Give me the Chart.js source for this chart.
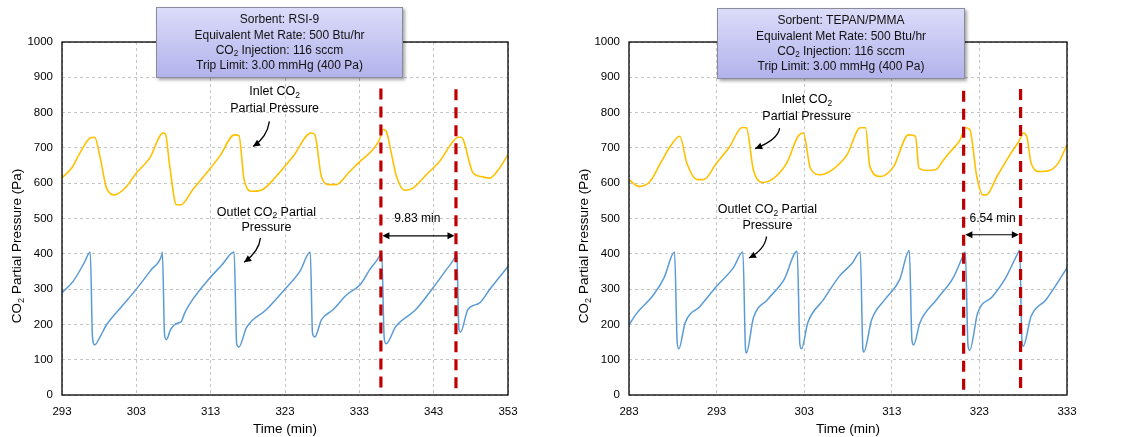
<!DOCTYPE html>
<html>
<head>
<meta charset="utf-8">
<script src="https://cdn.jsdelivr.net/npm/chart.js@4/dist/chart.umd.min.js"></script>
<style>
  html, body { margin: 0; padding: 0; background: #ffffff; }
  .panel { position: absolute; top: 0; height: 437px; }
  #panelLeft { left: 0; width: 560px; }
  #panelRight { left: 560px; width: 565px; }
</style>
</head>
<body>
<div class="panel" id="panelLeft"><canvas id="chartLeft"></canvas></div>
<div class="panel" id="panelRight"><canvas id="chartRight"></canvas></div>
<script>
// --- datos (tiempo en min, presion en Pa) ---

// panel izquierdo: RSI-9
const leftInletTime = [293, 294.3, 295.4, 296.8, 297.4, 298.1, 299.0, 300.1, 301.7, 303, 304.8, 306.6, 306.9, 307.5, 308.4, 309.0, 310.6, 312.8, 314.2, 316.2, 316.8, 317.5, 318.6, 320, 321.8, 324.1, 326.5, 327, 327.9, 329, 329.9, 331.7, 333.1, 334.8, 335.7, 336.2, 336.6, 337.3, 338, 339.1, 340.2, 342.0, 343.8, 345.6, 346.3, 346.7, 348.3, 349.4, 350.5, 351.7, 353];
const leftInletPa = [615, 643, 685, 728, 730, 676, 586, 567, 591, 629, 671, 742, 740, 647, 539, 539, 582, 638, 676, 737, 735, 610, 577, 582, 619, 676, 742, 738, 619, 596, 596, 633, 662, 695, 723, 752, 748, 685, 619, 580, 586, 624, 662, 718, 730, 730, 629, 619, 614, 638, 681];
const leftOutletTime = [293, 294.5, 296.0, 296.8, 297.1, 297.4, 298.0, 299.0, 301.0, 303, 305.0, 306.4, 306.5, 306.8, 307.05, 307.6, 308.4, 309.0, 309.5, 310.4, 312.7, 314.5, 316.15, 316.5, 316.8, 317.8, 320.5, 323, 325, 326.4, 326.7, 327.0, 327.9, 329.5, 331.3, 333.1, 334.4, 335.7, 336.0, 336.35, 336.6, 337.9, 340.6, 342.9, 344.7, 345.8, 346.1, 346.4, 346.6, 347.6, 349.2, 350.5, 353];
const leftOutletPa = [290, 322, 375, 405, 165, 142, 160, 199, 250, 300, 355, 395, 405, 170, 157, 185, 203, 207, 232, 265, 327, 368, 405, 145, 136, 190, 242, 300, 350, 405, 175, 164, 213, 242, 284, 312, 355, 393, 408, 160, 145, 194, 242, 303, 355, 388, 405, 185, 178, 242, 261, 298, 364];
const leftTripTimes = [335.9, 346.0];
const leftTripTops = [868, 866];

// panel derecho: TEPAN/PMMA
const rightInletTime = [283, 284.1, 285.4, 286.6, 287.7, 288.8, 289.6, 290.8, 291.5, 293, 294.5, 295.9, 296.4, 297.2, 298.3, 299.3, 301, 302.3, 302.9, 303.7, 304.8, 306.2, 307.9, 309.4, 310.0, 310.5, 311.7, 313.2, 314.9, 315.7, 316.1, 317.0, 318.0, 318.9, 319.7, 320.8, 321.4, 321.9, 322.7, 323.4, 323.8, 325.0, 326.5, 327.6, 328.0, 328.4, 328.9, 329.9, 331.0, 332.0, 333];
const rightInletPa = [610, 591, 605, 657, 704, 733, 657, 610, 610, 657, 704, 758, 757, 638, 602, 610, 657, 733, 742, 643, 624, 638, 681, 757, 757, 647, 619, 647, 737, 733, 643, 636, 638, 666, 690, 723, 757, 752, 619, 567, 567, 619, 681, 723, 742, 733, 657, 633, 636, 657, 709];
const rightOutletTime = [283, 283.9, 285.8, 287.0, 288.2, 288.5, 288.7, 289.4, 291.1, 293, 294.9, 296.0, 296.3, 296.4, 297.2, 298.8, 300.7, 302.2, 302.5, 302.7, 303.4, 305.2, 307.0, 308.5, 309.4, 309.7, 309.8, 310.7, 312.2, 313.9, 315.0, 315.3, 315.5, 316.2, 318.1, 320.0, 321.2, 321.4, 321.7, 321.9, 322.8, 324.5, 326.0, 327.4, 327.6, 327.85, 328.0, 328.9, 330.6, 333];
const rightOutletPa = [199, 232, 284, 332, 405, 150, 131, 204, 251, 308, 360, 405, 130, 119, 218, 270, 327, 407, 145, 131, 204, 270, 336, 374, 405, 130, 122, 213, 270, 327, 409, 155, 142, 204, 270, 332, 397, 405, 140, 127, 232, 279, 332, 402, 410, 155, 138, 223, 270, 360];
const rightTripTimes = [321.2, 327.7];
const rightTripTops = [862, 867];

// textos de las cajas de titulo
const leftBoxLines = ['Sorbent: RSI-9', 'Equivalent Met Rate: 500 Btu/hr', 'CO₂ Injection: 116 sccm', 'Trip Limit: 3.00 mmHg (400 Pa)'];
const rightBoxLines = ['Sorbent: TEPAN/PMMA', 'Equivalent Met Rate: 500 Btu/hr', 'CO₂ Injection: 116 sccm', 'Trip Limit: 3.00 mmHg (400 Pa)'];
const yTicks = [0, 100, 200, 300, 400, 500, 600, 700, 800, 900, 1000];

const FONT = '"Liberation Sans", Arial, sans-serif';

// Dibuja texto centrado; el caracter ₂ se pinta como subindice
function drawRich(ctx, text, x, y, size, color) {
    const parts = text.split('₂');
    const main = `${size}px ${FONT}`;
    const sub = `${size * 0.68}px ${FONT}`;
    let total = 0;
    parts.forEach((p, i) => {
        ctx.font = main;
        total += ctx.measureText(p).width;
        if (i < parts.length - 1) {
            ctx.font = sub;
            total += ctx.measureText('2').width;
        }
    });
    let cx = x - total / 2;
    ctx.fillStyle = color || '#000';
    ctx.textAlign = 'left';
    ctx.textBaseline = 'middle';
    parts.forEach((p, i) => {
        ctx.font = main;
        ctx.fillText(p, cx, y);
        cx += ctx.measureText(p).width;
        if (i < parts.length - 1) {
            ctx.font = sub;
            ctx.fillText('2', cx, y + size * 0.32);
            cx += ctx.measureText('2').width;
        }
    });
}

function arrowHead(ctx, x, y, angle, len, half) {
    ctx.beginPath();
    ctx.moveTo(x, y);
    ctx.lineTo(x - len * Math.cos(angle) + half * Math.sin(angle), y - len * Math.sin(angle) - half * Math.cos(angle));
    ctx.lineTo(x - len * Math.cos(angle) - half * Math.sin(angle), y - len * Math.sin(angle) + half * Math.cos(angle));
    ctx.closePath();
    ctx.fill();
}

// Plugin: marco, caja de titulo, titulo Y, textos y flechas
const decorPlugin = {
    id: 'decor',
    afterDraw(chart) {
        const o = chart.options.plugins.decor;
        const { ctx, chartArea: a, scales } = chart;
        const X = v => scales.x.getPixelForValue(v);
        const Y = v => scales.y.getPixelForValue(v);
        ctx.save();
        ctx.setLineDash([]);

        // marco negro del area de trazado
        ctx.strokeStyle = '#000';
        ctx.lineWidth = 1.3;
        ctx.strokeRect(a.left, a.top, a.right - a.left, a.bottom - a.top);

        // titulo del eje Y
        ctx.save();
        ctx.translate(o.yTitleX, 246);
        ctx.rotate(-Math.PI / 2);
        drawRich(ctx, 'CO₂ Partial Pressure (Pa)', 0, 0, 13.5, '#000');
        ctx.restore();

        // textos de las curvas
        o.labels.forEach(l => drawRich(ctx, l.text, X(l.x), Y(l.y), l.size, '#000'));

        // flechas curvas de anotacion
        ctx.strokeStyle = '#000';
        ctx.fillStyle = '#000';
        ctx.lineWidth = 1.3;
        o.pointers.forEach(p => {
            const x0 = X(p.from[0]), y0 = Y(p.from[1]);
            const xc = X(p.ctrl[0]), yc = Y(p.ctrl[1]);
            const x1 = X(p.to[0]), y1 = Y(p.to[1]);
            ctx.beginPath();
            ctx.moveTo(x0, y0);
            ctx.quadraticCurveTo(xc, yc, x1, y1);
            ctx.stroke();
            arrowHead(ctx, x1, y1, Math.atan2(y1 - yc, x1 - xc), 7, 3.5);
        });

        // flecha doble entre lineas de disparo
        const d = o.span;
        const xa = X(d.from), xb = X(d.to), yd = Y(d.y);
        ctx.lineWidth = 1.2;
        ctx.beginPath();
        ctx.moveTo(xa + 5, yd);
        ctx.lineTo(xb - 5, yd);
        ctx.stroke();
        arrowHead(ctx, xa, yd, Math.PI, 7, 3.5);
        arrowHead(ctx, xb, yd, 0, 7, 3.5);

        // caja de titulo con sombra y degradado
        const b = o.box;
        ctx.save();
        ctx.shadowColor = 'rgba(0,0,0,0.35)';
        ctx.shadowBlur = 3;
        ctx.shadowOffsetX = 2;
        ctx.shadowOffsetY = 2;
        const grad = ctx.createLinearGradient(0, b.top, 0, b.bottom);
        grad.addColorStop(0, '#dcdcfa');
        grad.addColorStop(1, '#b2b2ec');
        ctx.fillStyle = grad;
        ctx.fillRect(b.left, b.top, b.right - b.left, b.bottom - b.top);
        ctx.restore();
        ctx.strokeStyle = '#8a8a9a';
        ctx.lineWidth = 1;
        ctx.strokeRect(b.left + 0.5, b.top + 0.5, b.right - b.left - 1, b.bottom - b.top - 1);
        const cx = (b.left + b.right) / 2;
        b.lines.forEach((t, i) => drawRich(ctx, t, cx, b.top + 13 + i * 15.2, 12, '#111'));

        ctx.restore();
    }
};

function series(times, values) {
    return times.map((t, i) => ({ x: t, y: values[i] }));
}

function tripLines(times, tops) {
    // cada linea roja discontinua va desde su tope hasta 0
    return times.map((t, i) => ({
        data: [{ x: t, y: tops[i] }, { x: t, y: 0 }],
        borderColor: '#C00000',
        borderWidth: 3.2,
        borderDash: [11, 7],
        pointRadius: 0,
        order: 0
    }));
}

function makeChart(id, cfg) {
    const ctx = document.getElementById(id);
    return new Chart(ctx, {
        type: 'line',
        data: {
            datasets: [
                {
                    label: 'Inlet',
                    data: series(cfg.inletT, cfg.inletV),
                    borderColor: '#FFC000',
                    borderWidth: 1.6,
                    pointRadius: 0,
                    cubicInterpolationMode: 'monotone',
                    order: 2
                },
                {
                    label: 'Outlet',
                    data: series(cfg.outletT, cfg.outletV),
                    borderColor: '#5B9BD5',
                    borderWidth: 1.5,
                    pointRadius: 0,
                    cubicInterpolationMode: 'monotone',
                    order: 1
                },
                ...tripLines(cfg.tripT, cfg.tripTop)
            ]
        },
        options: {
            responsive: true,
            maintainAspectRatio: false,
            animation: false,
            layout: { padding: { top: 42, right: cfg.padRight, bottom: 0, left: 0 } },
            scales: {
                x: {
                    type: 'linear',
                    min: cfg.xMin,
                    max: cfg.xMax,
                    afterFit: s => { s.height = 42; },
                    afterBuildTicks: s => { s.ticks = cfg.xTicks.map(v => ({ value: v })); },
                    ticks: { color: '#000', font: { family: FONT, size: 11.5 }, padding: 10, maxRotation: 0, callback: v => String(v) },
                    grid: { color: '#c4c4c4', lineWidth: 1, drawTicks: false },
                    border: { display: false, dash: [3, 3] },
                    title: { display: true, text: 'Time (min)', color: '#000', font: { family: FONT, size: 13.5 }, padding: { top: 0, bottom: 0 } }
                },
                y: {
                    min: 0,
                    max: 1000,
                    afterFit: s => { s.width = cfg.yWidth; },
                    afterBuildTicks: s => { s.ticks = yTicks.map(v => ({ value: v })); },
                    ticks: { color: '#000', font: { family: FONT, size: 11.5 }, padding: 9, callback: v => String(v) },
                    grid: { color: '#c4c4c4', lineWidth: 1, drawTicks: false },
                    border: { display: false, dash: [3, 3] }
                }
            },
            plugins: {
                legend: { display: false },
                tooltip: { enabled: false },
                decor: cfg.decor
            }
        },
        plugins: [decorPlugin]
    });
}

makeChart('chartLeft', {
    inletT: leftInletTime, inletV: leftInletPa,
    outletT: leftOutletTime, outletV: leftOutletPa,
    tripT: leftTripTimes, tripTop: leftTripTops,
    xMin: 293, xMax: 353, xTicks: [293, 303, 313, 323, 333, 343, 353],
    yWidth: 62, padRight: 52,
    decor: {
        yTitleX: 17,
        box: { left: 156, right: 403, top: 7, bottom: 78, lines: leftBoxLines },
        labels: [
            { text: 'Inlet CO₂', x: 321.6, y: 860, size: 12.5 },
            { text: 'Partial Pressure', x: 321.6, y: 812, size: 12.5 },
            { text: 'Outlet CO₂ Partial', x: 320.5, y: 518, size: 12.5 },
            { text: 'Pressure', x: 320.5, y: 473, size: 12.5 },
            { text: '9.83 min', x: 340.8, y: 499, size: 12 }
        ],
        pointers: [
            { from: [320.9, 775], ctrl: [320.6, 730], to: [318.7, 704] },
            { from: [319.7, 445], ctrl: [319.5, 406], to: [317.5, 376] }
        ],
        span: { from: 336.1, to: 345.8, y: 451 }
    }
});

makeChart('chartRight', {
    inletT: rightInletTime, inletV: rightInletPa,
    outletT: rightOutletTime, outletV: rightOutletPa,
    tripT: rightTripTimes, tripTop: rightTripTops,
    xMin: 283, xMax: 333, xTicks: [283, 293, 303, 313, 323, 333],
    yWidth: 69, padRight: 58,
    decor: {
        yTitleX: 24,
        box: { left: 157, right: 405, top: 8, bottom: 79, lines: rightBoxLines },
        labels: [
            { text: 'Inlet CO₂', x: 303.3, y: 838, size: 12.5 },
            { text: 'Partial Pressure', x: 303.3, y: 789, size: 12.5 },
            { text: 'Outlet CO₂ Partial', x: 298.8, y: 525, size: 12.5 },
            { text: 'Pressure', x: 298.8, y: 480, size: 12.5 },
            { text: '6.54 min', x: 324.5, y: 500, size: 12 }
        ],
        pointers: [
            { from: [300.2, 756], ctrl: [300.0, 723], to: [297.4, 698] },
            { from: [298.7, 449], ctrl: [298.5, 412], to: [296.7, 388] }
        ],
        span: { from: 321.4, to: 327.5, y: 454 }
    }
});
</script>
</body>
</html>
